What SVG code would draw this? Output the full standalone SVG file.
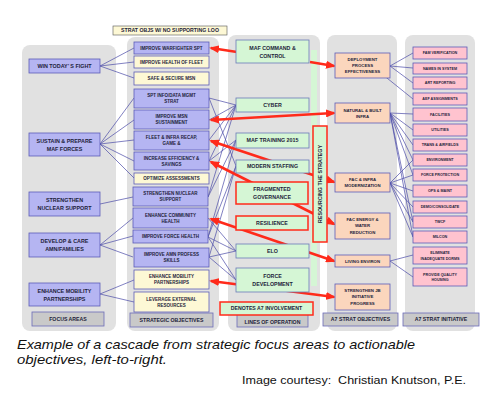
<svg xmlns="http://www.w3.org/2000/svg" width="504" height="400" viewBox="0 0 504 400">
<style>
.bg{fill:#e1e1e1}
.b{fill:#b5b5f2;stroke:#5c5cb8;stroke-width:0.8}
.y{fill:#fdf8d5;stroke:#5c5cb8;stroke-width:0.8}
.g{fill:#d5f6d5;stroke:#6a7ab8;stroke-width:0.8}
.gr{fill:#d5f6d5;stroke:#ff2a1a;stroke-width:1.5}
.p{fill:#fbd6bd;stroke:#5c5cb8;stroke-width:0.8}
.k{fill:#ffc3cf;stroke:#5c5cb8;stroke-width:0.8}
.lab{fill:#c9c9c9;stroke:#6b6bb8;stroke-width:0.8}
text{font-family:"Liberation Sans",Arial,sans-serif;font-weight:bold;fill:#1d1d3a;text-anchor:middle}
.f1{font-size:5.4px}
.f2{font-size:4.5px}
.f3{font-size:5.3px}
.f4{font-size:4.3px}
.f5{font-size:3.7px}
.fl{font-size:5.2px}
.bl{stroke:#4a4aa8;stroke-width:0.7;fill:none}
.rd{stroke:#ff2a1a;stroke-width:2.6;fill:none}
.cap{font-family:"Liberation Sans",Arial,sans-serif;font-weight:normal;text-anchor:start;fill:#111}
</style>
<defs>
<marker id="ah" viewBox="0 0 10 8" refX="8" refY="4" markerWidth="10" markerHeight="8" markerUnits="userSpaceOnUse" orient="auto-start-reverse">
<path d="M0,0 L10,4 L0,8 z" fill="#ff2a1a"/>
</marker>
</defs>
<rect width="504" height="400" fill="#fff"/>
<g id="columns">
<rect class="bg" x="22" y="45" width="94" height="286" rx="8"/>
<rect class="bg" x="127" y="37" width="92" height="294" rx="8"/>
<rect class="bg" x="228" y="35" width="92" height="296" rx="8"/>
<rect class="bg" x="327" y="35" width="70" height="296" rx="8"/>
<rect class="bg" x="405" y="35" width="70" height="296" rx="8"/>
<rect x="311" y="50" width="6" height="236" fill="#d5f6d5"/>
</g>
<g id="connectors">
<g class="bl">
<path d="M100,66 L134,48 M100,66 L134,62 M100,66 L134,78"/>
<path d="M100,144 L134,98 M100,144 L134,120 M100,144 L134,140 M100,144 L134,161 M100,144 L134,178"/>
<path d="M100,204 L133,197"/>
<path d="M100,245 L133,218 M100,245 L133,236 M100,245 L133,257"/>
<path d="M100,294 L134,280 M100,294 L134,302"/>
<path d="M209,98 L236,105 M209,98 L236,166 M209,120 L236,105 M209,140 L236,105 M209,161 L236,105 M209,161 L236,140 M208,197 L236,105 M208,197 L236,140 M208,237 L236,140 M208,237 L236,166 M208,237 L236,251 M208,237 L236,280 M209,257 L236,166 M209,257 L236,251 M209,257 L236,280 M208,218 L236,251"/>
<path d="M390,66 L413,53 M390,66 L413,68 M390,66 L413,83 M377,70 L413,99"/>
<path d="M390,113 L413,114 M390,113 L413,130 M390,113 L413,145 M390,113 L413,160 M390,113 L413,175 M390,113 L413,222 M390,113 L413,237"/>
<path d="M390,183 L413,160 M390,183 L413,175 M390,183 L413,191 M390,183 L413,207 M390,183 L413,222 M390,183 L413,237"/>
<path d="M390,261 L413,255 M390,261 L413,277"/>
</g>
<g class="rd">
<path d="M237,52 L211,48" marker-end="url(#ah)"/>
<path d="M310,62 L334,66" marker-end="url(#ah)"/>
<path d="M211,120 L334,113" marker-start="url(#ah)" marker-end="url(#ah)"/>
<path d="M211,141 L334,182" marker-start="url(#ah)" marker-end="url(#ah)"/>
<path d="M211,162 L334,224" marker-start="url(#ah)" marker-end="url(#ah)"/>
<path d="M211,219 L334,261" marker-start="url(#ah)" marker-end="url(#ah)"/>
<path d="M211,281 L334,297" marker-start="url(#ah)" marker-end="url(#ah)"/>
</g>
</g>
<g id="focus-areas">
<g id="fa1"><rect class="b" x="29" y="59" width="71" height="14"/><text class="f1" x="64.5" y="67.9">WIN TODAY’ S FIGHT</text></g>
<g id="fa2"><rect class="b" x="29" y="133" width="71" height="23"/><text class="f1" x="64.5" y="142.5">SUSTAIN &amp; PREPARE</text><text class="f1" x="64.5" y="150.5">MAF FORCES</text></g>
<g id="fa3"><rect class="b" x="29" y="192" width="71" height="24"/><text class="f1" x="64.5" y="202">STRENGTHEN</text><text class="f1" x="64.5" y="210">NUCLEAR SUPPORT</text></g>
<g id="fa4"><rect class="b" x="29" y="233" width="71" height="24"/><text class="f1" x="64.5" y="243">DEVELOP &amp; CARE</text><text class="f1" x="64.5" y="251">AMN/FAMILIES</text></g>
<g id="fa5"><rect class="b" x="29" y="283" width="71" height="23"/><text class="f1" x="64.5" y="292.5">ENHANCE MOBILITY</text><text class="f1" x="64.5" y="300.5">PARTNERSHIPS</text></g>
<g id="fa-label"><rect class="lab" x="32" y="312" width="72" height="14"/><text class="fl" x="68" y="320.8">FOCUS AREAS</text></g>
</g>
<g id="strategic-objectives">
<g id="so-note"><rect x="113" y="26" width="114" height="9" fill="#fdf8d5" stroke="#555" stroke-width="0.6"/><text class="fl" x="170" y="32.3">STRAT OBJS W/ NO SUPPORTING LOO</text></g>
<g id="so1"><rect class="b" x="134" y="42" width="75" height="12"/><text class="f2" x="171.5" y="49.6">IMPROVE WARFIGHTER SPT</text></g>
<g id="so2"><rect class="y" x="134" y="56" width="75" height="12"/><text class="f2" x="171.5" y="63.6">IMPROVE HEALTH OF FLEET</text></g>
<g id="so3"><rect class="y" x="134" y="72" width="75" height="13"/><text class="f2" x="171.5" y="80.1">SAFE &amp; SECURE MSN</text></g>
<g id="so4"><rect class="b" x="134" y="89" width="75" height="19"/><text class="f2" x="171.5" y="97">SPT INFO/DATA MGMT</text><text class="f2" x="171.5" y="103.3">STRAT</text></g>
<g id="so5"><rect class="b" x="134" y="110" width="75" height="19"/><text class="f2" x="171.5" y="118">IMPROVE MSN</text><text class="f2" x="171.5" y="124.3">SUSTAINMENT</text></g>
<g id="so6"><rect class="b" x="134" y="131" width="75" height="19"/><text class="f2" x="171.5" y="139">FLEET &amp; INFRA RECAP,</text><text class="f2" x="171.5" y="145.3">GAME &amp;</text></g>
<g id="so7"><rect class="b" x="134" y="152" width="75" height="18"/><text class="f2" x="171.5" y="159.6">INCREASE EFFICIENCY &amp;</text><text class="f2" x="171.5" y="165.9">SAVINGS</text></g>
<g id="so8"><rect class="y" x="134" y="173" width="75" height="11"/><text class="f2" x="171.5" y="180.1">OPTIMIZE ASSESSMENTS</text></g>
<g id="so9"><rect class="b" x="133" y="187" width="75" height="19"/><text class="f2" x="170.5" y="195">STRENGTHEN NUCLEAR</text><text class="f2" x="170.5" y="201.3">SUPPORT</text></g>
<g id="so10"><rect class="b" x="133" y="208" width="75" height="20"/><text class="f2" x="170.5" y="216.5">ENHANCE COMMUNITY</text><text class="f2" x="170.5" y="222.8">HEALTH</text></g>
<g id="so11"><rect class="b" x="133" y="230" width="75" height="13"/><text class="f2" x="170.5" y="238.1">IMPROVE FORCE HEALTH</text></g>
<g id="so12"><rect class="b" x="134" y="248" width="75" height="19"/><text class="f2" x="171.5" y="256">IMPROVE AMN PROFESS</text><text class="f2" x="171.5" y="262.3">SKILLS</text></g>
<g id="so13"><rect class="y" x="134" y="270" width="75" height="19"/><text class="f2" x="171.5" y="278">ENHANCE MOBILITY</text><text class="f2" x="171.5" y="284.3">PARTNERSHIPS</text></g>
<g id="so14"><rect class="y" x="134" y="292" width="75" height="20"/><text class="f2" x="171.5" y="300.5">LEVERAGE EXTERNAL</text><text class="f2" x="171.5" y="306.8">RESOURCES</text></g>
<g id="so-label"><rect class="lab" x="130" y="313" width="83" height="14"/><text class="fl" x="171.5" y="321.8">STRATEGIC OBJECTIVES</text></g>
</g>
<g id="lines-of-operation">
<g id="lo1"><rect class="g" x="236" y="40" width="73" height="23"/><text class="f3" x="272.5" y="49.5">MAF COMMAND &amp;</text><text class="f3" x="272.5" y="57.5">CONTROL</text></g>
<g id="lo2"><rect class="g" x="236" y="98" width="73" height="14"/><text class="f3" x="272.5" y="106.9">CYBER</text></g>
<g id="lo3"><rect class="g" x="236" y="133" width="73" height="15"/><text class="f3" x="272.5" y="142.4">MAF TRAINING 2015</text></g>
<g id="lo4"><rect class="g" x="236" y="160" width="73" height="13"/><text class="f3" x="272.5" y="168.4">MODERN STAFFING</text></g>
<g id="lo5"><rect class="gr" x="236" y="182" width="72" height="22"/><text class="f3" x="272" y="191">FRAGMENTED</text><text class="f3" x="272" y="199">GOVERNANCE</text></g>
<g id="lo6"><rect class="gr" x="236" y="216" width="72" height="14"/><text class="f3" x="272" y="224.9">RESILIENCE</text></g>
<g id="lo7"><rect class="g" x="236" y="244" width="73" height="14"/><text class="f3" x="272.5" y="252.9">ELO</text></g>
<g id="lo8"><rect class="g" x="236" y="268" width="73" height="24"/><text class="f3" x="272.5" y="278">FORCE</text><text class="f3" x="272.5" y="286">DEVELOPMENT</text></g>
<g id="lo-label"><rect class="lab" x="237" y="313" width="71" height="14"/><text class="fl" x="272.5" y="323.5">LINES OF OPERATION</text></g>
<g id="lo-legend"><rect class="gr" x="220" y="302" width="93" height="13"/><text class="fl" x="266.5" y="310.3">DENOTES A7 INVOLVEMENT</text></g>
<g id="resourcing"><rect class="gr" x="313" y="126" width="14" height="116"/><text class="f3" transform="translate(322,184) rotate(-90)" x="0" y="0">RESOURCING THE STRATEGY</text></g>
</g>
<g id="a7-strat-objectives">
<g id="ao1"><rect class="p" x="335" y="53" width="55" height="25"/><text class="f4" x="362.5" y="60.5">DEPLOYMENT</text><text class="f4" x="362.5" y="66.8">PROCESS</text><text class="f4" x="362.5" y="73.1">EFFECTIVENESS</text></g>
<g id="ao2"><rect class="p" x="335" y="103" width="55" height="20"/><text class="f4" x="362.5" y="111.5">NATURAL &amp; BUILT</text><text class="f4" x="362.5" y="117.8">INFRA</text></g>
<g id="ao3"><rect class="p" x="335" y="173" width="55" height="19"/><text class="f4" x="362.5" y="181">FAC &amp; INFRA</text><text class="f4" x="362.5" y="187.3">MODERNIZATION</text></g>
<g id="ao4"><rect class="p" x="335" y="213" width="55" height="26"/><text class="f4" x="362.5" y="221">FAC ENERGY &amp;</text><text class="f4" x="362.5" y="227.3">WATER</text><text class="f4" x="362.5" y="233.6">REDUCTION</text></g>
<g id="ao5"><rect class="p" x="335" y="255" width="55" height="12"/><text class="f4" x="362.5" y="262.5">LIVING ENVIRON</text></g>
<g id="ao6"><rect class="p" x="335" y="284" width="55" height="26"/><text class="f4" x="362.5" y="292">STRENGTHEN JB</text><text class="f4" x="362.5" y="298.3">INITIATIVE</text><text class="f4" x="362.5" y="304.6">PROGRESS</text></g>
<g id="ao-label"><rect class="lab" x="323" y="313" width="75" height="13"/><text class="fl" x="360.5" y="321.3">A7 STRAT OBJECTIVES</text></g>
</g>
<g id="a7-strat-initiative">
<g id="si1"><rect class="k" x="413" y="47" width="54" height="12"/><text class="f5" x="440" y="54.3">FAM VERIFICATION</text></g>
<g id="si2"><rect class="k" x="413" y="63" width="54" height="11"/><text class="f5" x="440" y="69.8">NAMES IN SYSTEM</text></g>
<g id="si3"><rect class="k" x="413" y="77" width="54" height="12"/><text class="f5" x="440" y="84.3">ART REPORTING</text></g>
<g id="si4"><rect class="k" x="413" y="93" width="54" height="12"/><text class="f5" x="440" y="100.3">AEF ASSIGNMENTS</text></g>
<g id="si5"><rect class="k" x="413" y="108" width="54" height="13"/><text class="f5" x="440" y="115.8">FACILITIES</text></g>
<g id="si6"><rect class="k" x="413" y="124" width="54" height="12"/><text class="f5" x="440" y="131.3">UTILITIES</text></g>
<g id="si7"><rect class="k" x="413" y="139" width="54" height="12"/><text class="f5" x="440" y="146.3">TRANS &amp; AIRFIELDS</text></g>
<g id="si8"><rect class="k" x="413" y="154" width="54" height="12"/><text class="f5" x="440" y="161.3">ENVIRONMENT</text></g>
<g id="si9"><rect class="k" x="413" y="169" width="54" height="12"/><text class="f5" x="440" y="176.3">FORCE PROTECTION</text></g>
<g id="si10"><rect class="k" x="413" y="185" width="54" height="12"/><text class="f5" x="440" y="192.3">OPS &amp; MAINT</text></g>
<g id="si11"><rect class="k" x="413" y="201" width="54" height="12"/><text class="f5" x="440" y="208.3">DEMO/CONSOLIDATE</text></g>
<g id="si12"><rect class="k" x="413" y="216" width="54" height="12"/><text class="f5" x="440" y="223.3">TWCF</text></g>
<g id="si13"><rect class="k" x="413" y="231" width="54" height="12"/><text class="f5" x="440" y="238.3">MILCON</text></g>
<g id="si14"><rect class="k" x="413" y="247" width="54" height="17"/><text class="f5" x="440" y="254.3">ELIMINATE</text><text class="f5" x="440" y="259.8">INADEQUATE DORMS</text></g>
<g id="si15"><rect class="k" x="413" y="268" width="54" height="18"/><text class="f5" x="440" y="275.8">PROVIDE QUALITY</text><text class="f5" x="440" y="281.3">HOUSING</text></g>
<g id="si-label"><rect class="lab" x="403" y="313" width="76" height="13"/><text class="fl" x="441" y="321.3">A7 STRAT INITIATIVE</text></g>
</g>
<g id="caption">
<text class="cap" x="17" y="349" font-size="13.5" font-style="italic" textLength="398" lengthAdjust="spacingAndGlyphs">Example of a cascade from strategic focus areas to actionable</text>
<text class="cap" x="17" y="364" font-size="13.5" font-style="italic" textLength="150" lengthAdjust="spacingAndGlyphs">objectives, left-to-right.</text>
<text class="cap" x="242" y="384" font-size="11.5" xml:space="preserve" textLength="224" lengthAdjust="spacingAndGlyphs">Image courtesy:  Christian Knutson, P.E.</text>
</g>
</svg>
